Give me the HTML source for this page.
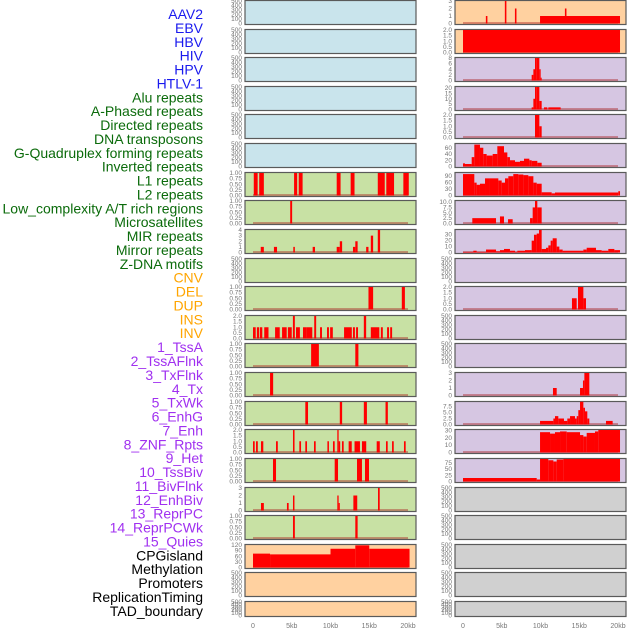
<!DOCTYPE html>
<html><head><meta charset="utf-8"><style>
html,body{margin:0;padding:0;background:#fff;}
svg{display:block;font-family:"Liberation Sans",sans-serif;}
</style></head><body>
<svg id="chart" width="630" height="630" viewBox="0 0 630 630" xmlns="http://www.w3.org/2000/svg"></svg>
<script>
// ---------- data ----------
const trackLabels = ["AAV2","EBV","HBV","HIV","HPV","HTLV-1","Alu repeats","A-Phased repeats","Directed repeats","DNA transposons","G-Quadruplex forming repeats","Inverted repeats","L1 repeats","L2 repeats","Low_complexity A/T rich regions","Microsatellites","MIR repeats","Mirror repeats","Z-DNA motifs","CNV","DEL","DUP","INS","INV","1_TssA","2_TssAFlnk","3_TxFlnk","4_Tx","5_TxWk","6_EnhG","7_Enh","8_ZNF_Rpts","9_Het","10_TssBiv","11_BivFlnk","12_EnhBiv","13_ReprPC","14_ReprPCWk","15_Quies","CPGisland","Methylation","Promoters","ReplicationTiming","TAD_boundary"];
const xTickValues = [0,5,10,15,20];
const xTickLabels = ["0","5kb","10kb","15kb","20kb"];
const emptyTicks = [0,100,200,300,400,500];
const ticks1 = [0,0.25,0.5,0.75,1];
const ticks1Labels = ["0.00","0.25","0.50","0.75","1.00"];

// left column tracks (bars: start kb, end kb, value)
const L7_s=[0.1,0.8,5.3,5.9,10.8,12.6,16.1,17.2,19.4], L7_e=[0.6,1.4,5.7,6.4,11.3,13.1,17.0,18.2,20.1], L7_v=[1,1,1,1,1,1,1,1,1];
const L8_s=[4.8], L8_e=[5.05], L8_v=[1];
const L9_s=[1.0,2.7,5.2,7.7,10.8,11.2,12.9,13.2,14.6,15.2,16.1], L9_e=[1.4,3.1,5.4,8.0,11.2,11.5,13.2,13.5,14.9,15.5,16.4], L9_v=[1,1,1,1,1,2,1,2,1,3,4];
const L11_s=[14.9,19.2], L11_e=[15.5,19.6], L11_v=[1,1];
const L12_s=[0,0.5,0.9,1.45,2.85,3.75,4.5,5.15,5.55,6.45,6.95,7.9,8.65,9.55,9.95,11.75,12.9,13.3,14.3,15.2,16.5,17.3,17.7];
const L12_e=[0.35,0.8,1.2,2.0,3.45,4.35,5.0,5.4,6.05,6.95,7.65,8.15,8.9,9.8,10.3,12.75,13.15,13.55,14.6,16.3,16.75,17.55,17.95];
const L12_v=[1,1,1,1,1,1,1,2,1,1,1,2,1,1,1,1,1,1,2,1,1,1,1];
const L13_s=[7.5,13.2], L13_e=[8.5,13.6], L13_v=[1,1];
const L14_s=[2.2], L14_e=[2.6], L14_v=[1];
const L15_s=[6.75,11.2,14.3,17.1], L15_e=[7.1,11.5,14.7,17.4], L15_v=[1,1,1,1];
const L16_s=[0,0.39,1.03,2.97,5.16,5.98,6.75,7.87,9.6,10.32,10.88,11.05,11.48,12.34,13.1,14.06,15.96,17.16,17.94,19.48];
const L16_e=[0.22,0.62,1.33,3.2,5.36,6.2,6.97,8.09,9.8,10.54,11.05,11.25,11.7,12.74,13.8,14.61,16.36,17.38,18.16,19.7];
const L16_v=[1,1,1,1,2,1,1,1,1,1,2,1,1,1,1,1,1,1,1,1];
const L17_s=[2.58,10.54,13.42,14.45], L17_e=[2.97,10.97,14.06,14.97], L17_v=[1,1,1,1];
const L18_s=[1.03,4.38,5.16,10.88,11.05,12.95,16.13], L18_e=[1.4,4.6,5.35,11.05,11.2,13.45,16.35], L18_v=[1,1,2,2,1,2,3];
const L19_s=[5.16,13.2], L19_e=[5.4,13.5], L19_v=[1,1];
const L20_x=[0,2.2,10,13.2,15,20.2], L20_v=[74,70,100,118,100];

// right column tracks
const R1_s=[9.94,2.95,5.4,6.7,13.15], R1_e=[20.26,3.15,5.6,6.9,13.35], R1_v=[1,1,3,2,2];
const R2_s=[0], R2_e=[20.26], R2_v=[2];
const R3_x=[8.86,9.08,9.29,9.51,9.85,10.02,10.15], R3_v=[2,4,8,8,4,1];
const R4_s=[8.86,9.08,9.29,9.51,9.85,10.45,11.01], R4_e=[9.08,9.29,9.51,9.85,10.15,10.88,12.6], R4_v=[2,10,21,21,8,2,2];
const R5_s=[9.29,9.85], R5_e=[9.85,10.15], R5_v=[2,1];
const R6_x=[0,0.26,1.12,1.46,2.19,2.62,3.05,3.83,4.43,5.29,5.72,6.06,6.71,7.35,7.87,8.56,8.86,9.59,10.15];
const R6_v=[10,8,30,70,60,40,35,40,65,45,30,20,15,18,25,20,18,12];
const R7_x=[0,1.46,1.76,2.19,2.84,3.48,4.56,4.99,5.42,5.85,6.49,7.14,7.79,8.43,9.08,9.51,10.15,11.44,11.87,20.04,20.26];
const R7_v=[100,60,50,55,80,80,70,60,80,90,100,98,95,90,60,55,15,10,14,20];
const R8_s=[1.2,4.77,5.81,8.65,8.99,9.29,9.59], R8_e=[4.26,5.29,6.41,8.99,9.29,9.59,10.15], R8_v=[2.5,3.3,2,2.5,7.5,10.5,7.5];
const R9_x=[0,1.33,1.76,2.97,4.26,4.77,5.29,6.06,6.71,7.01,8.0,8.86,9.16,9.51,9.81,10.15,10.71,11.01,11.31,11.57,12.09,12.43,12.86,15.53,15.96,17.16,17.89,18.75,19.53,20.26];
const R9_v=[1,3,1,5,2,4,6,3,1,3,4,20,30,32,38,6,8,12,20,24,10,5,3,5,8,4,3,6,4];
const R11_s=[14.06,14.84,15.53], R11_e=[14.67,15.53,15.87], R11_v=[1,2,1];
const R14_s=[11.61,15.1,15.48,15.66], R14_e=[12.09,15.48,15.66,16.3], R14_v=[1,1,2,3];
const R15_x=[9.94,11.66,11.87,12.3,13.03,13.46,13.81,14.45,14.67,14.88,15.1,15.53,15.74,16.04,16.3,18.45,19.31];
const R15_v=[1.5,2.5,3.5,2.5,1.5,2.5,3.5,2.5,3.5,6,9.5,7,5.5,2.5,0,1.5];
const R16_x=[9.94,11.23,11.87,12.52,13.38,15.1,15.53,15.96,17.03,17.46,20.26], R16_v=[28,26,28,29,28,24,22,27,29,31];
const R17_x=[0,9.51,9.94,11.01,11.66,12.09,12.95,20.26], R17_v=[14,8,90,85,80,88,90];

function bars(s,e,v,ymax,t,tl){return {s:s,e:e,v:v,ymax:ymax,t:t,tl:tl};}
function steps(x,v,ymax,t,tl){const s=x.slice(0,-1),e=x.slice(1);return {s:s,e:e,v:v,ymax:ymax,t:t,tl:tl};}
const leftTracks = {
 6:bars(L7_s,L7_e,L7_v,1,ticks1,ticks1Labels),
 7:bars(L8_s,L8_e,L8_v,1,ticks1,ticks1Labels),
 8:bars(L9_s,L9_e,L9_v,4,[0,1,2,3,4],["0","1","2","3","4"]),
 10:bars(L11_s,L11_e,L11_v,1,ticks1,ticks1Labels),
 11:bars(L12_s,L12_e,L12_v,2,[0,0.5,1,1.5,2],["0.0","0.5","1.0","1.5","2.0"]),
 12:bars(L13_s,L13_e,L13_v,1,ticks1,ticks1Labels),
 13:bars(L14_s,L14_e,L14_v,1,ticks1,ticks1Labels),
 14:bars(L15_s,L15_e,L15_v,1,ticks1,ticks1Labels),
 15:bars(L16_s,L16_e,L16_v,2,[0,0.5,1,1.5,2],["0.0","0.5","1.0","1.5","2.0"]),
 16:bars(L17_s,L17_e,L17_v,1,ticks1,ticks1Labels),
 17:bars(L18_s,L18_e,L18_v,3,[0,1,2,3],["0","1","2","3"]),
 18:bars(L19_s,L19_e,L19_v,1,ticks1,ticks1Labels),
 19:steps(L20_x,L20_v,120,[0,30,60,90,120],["0","30","60","90","120"])
};
const rightTracks = {
 0:bars(R1_s,R1_e,R1_v,3,[0,1,2,3],["0","1","2","3"]),
 1:bars(R2_s,R2_e,R2_v,2,[0,0.5,1,1.5,2],["0.0","0.5","1.0","1.5","2.0"]),
 2:steps(R3_x,R3_v,8,[0,2,4,6,8],["0","2","4","6","8"]),
 3:bars(R4_s,R4_e,R4_v,21,[0,5,10,15,20],["0","5","10","15","20"]),
 4:bars(R5_s,R5_e,R5_v,2,[0,0.5,1,1.5,2],["0.0","0.5","1.0","1.5","2.0"]),
 5:steps(R6_x,R6_v,72,[0,20,40,60],["0","20","40","60"]),
 6:steps(R7_x,R7_v,105,[0,30,60,90],["0","30","60","90"]),
 7:bars(R8_s,R8_e,R8_v,10.5,[0,2.5,5,7.5,10],["0.0","2.5","5.0","7.5","10.0"]),
 8:steps(R9_x,R9_v,38,[0,10,20,30],["0","10","20","30"]),
 10:bars(R11_s,R11_e,R11_v,2,[0,0.5,1,1.5,2],["0.0","0.5","1.0","1.5","2.0"]),
 13:bars(R14_s,R14_e,R14_v,3,[0,1,2,3],["0","1","2","3"]),
 14:steps(R15_x,R15_v,9.4,[0,2.5,5,7.5],["0.0","2.5","5.0","7.5"]),
 15:steps(R16_x,R16_v,31,[0,10,20,30],["0","10","20","30"]),
 16:steps(R17_x,R17_v,90,[0,25,50,75],["0","25","50","75"])
};

// ---------- drawing ----------
const NS="http://www.w3.org/2000/svg";
const svg=document.getElementById('chart');
function mk(tag,attrs,parent){const el=document.createElementNS(NS,tag);for(const k in attrs)el.setAttribute(k,attrs[k]);(parent||svg).appendChild(el);return el;}

function labelColor(i){if(i<6)return "#1a1aee";if(i<19)return "#0b6b0b";if(i<24)return "#ffa500";if(i<39)return "#a030f0";return "#000";}
trackLabels.forEach((t,i)=>{
  const el=mk('text',{x:203,y:19+i*13.88,'text-anchor':'end','font-size':'14',fill:labelColor(i)});
  el.textContent=t;
  
  
});

const cols=[{x0:245,tracks:leftTracks,name:'left'},{x0:455,tracks:rightTracks,name:'right'}];
function panelColor(c,r){
  if(c===0){if(r<6)return "#c9e4ec";if(r<19)return "#c8e1a4";return "#ffd1a0";}
  if(r<2)return "#ffd1a0";if(r<17)return "#d6c6e2";return "#d0d0d0";
}
for(let c=0;c<2;c++){
  const col=cols[c];
  const xs=kb=>col.x0+8+kb*7.75;
  for(let r=0;r<22;r++){
    const top=Math.round(r*28.62), h=(r===21)?15:24;
    const g=mk('g',{});
    
    
    mk('rect',{x:col.x0,y:top+0.5,width:171,height:h,fill:panelColor(c,r),stroke:'#5a5a5a','stroke-width':1.2},g);
    const tr=col.tracks[r];
    const ymax=tr?tr.ymax:500, tv=tr?tr.t:emptyTicks, tl=tr?tr.tl:emptyTicks.map(String);
    const ys=v=>top+h-0.5-v/ymax*(h-1.5);
    tv.forEach((v,k)=>{
      const t=mk('text',{x:col.x0-3,y:ys(v)+2,'text-anchor':'end','font-size':'6.5',fill:'#777'},g);
      t.textContent=tl[k];
      
      
    });
    if(tr){
      mk('line',{x1:xs(0),x2:xs(20),y1:ys(0)-0.5,y2:ys(0)-0.5,stroke:'rgba(170,30,30,0.55)','stroke-width':1.5},g);
      for(let k=0;k<tr.v.length;k++){
        if(tr.v[k]<=0)continue;
        const y=ys(tr.v[k]);
        const b=mk('rect',{x:xs(tr.s[k]),y:y,width:Math.max(0.8,xs(tr.e[k])-xs(tr.s[k])),height:ys(0)-y,fill:'#ff0000'},g);
        
        
      }
    }
  }
  xTickValues.forEach((v,k)=>{
    const t=mk('text',{x:xs(v),y:628,'text-anchor':'middle','font-size':'7',fill:'#777'});
    t.textContent=xTickLabels[k];
    
    
  });
}
</script>
</body></html>
